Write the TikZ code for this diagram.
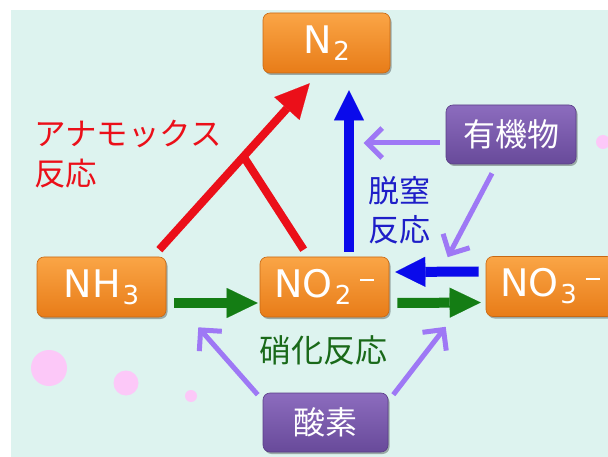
\documentclass[tikz,border=0pt]{standalone}
\usepackage{fontspec}
\setmainfont{Noto Sans CJK JP}
\newfontfamily\latinf{DejaVu Sans}
\usetikzlibrary{arrows.meta,shadows,calc}
\definecolor{bgc}{RGB}{221,243,239}
\definecolor{otop}{RGB}{250,165,70}
\definecolor{obot}{RGB}{232,124,24}
\definecolor{obord}{RGB}{200,105,20}
\definecolor{ptop}{RGB}{140,108,190}
\definecolor{pbot}{RGB}{104,74,154}
\definecolor{pbord}{RGB}{90,62,135}
\definecolor{redc}{RGB}{235,15,25}
\definecolor{bluec}{RGB}{10,10,235}
\definecolor{greenc}{RGB}{20,125,20}
\definecolor{glabel}{RGB}{25,105,25}
\definecolor{blabel}{RGB}{30,30,200}
\definecolor{purc}{RGB}{158,120,245}
\definecolor{pinkc}{RGB}{252,200,248}
\newcommand\chsub[1]{\hspace{2pt}\raisebox{-7pt}{\fontsize{26pt}{26pt}\selectfont #1}}
\newcommand\chsup{\hspace{9pt}\rule[17pt]{14pt}{1.6pt}}
\begin{document}
\begin{tikzpicture}[x=1pt,y=-1pt,
  basebox/.style={rounded corners=7pt, line width=0.6pt, inner sep=0pt,
    minimum height=60pt, text=white,
    drop shadow={shadow xshift=1.5pt,shadow yshift=-2pt,opacity=0.3,fill=black}},
  obox/.style={basebox, draw=obord, top color=otop, bottom color=obot,
    minimum width=129pt, font=\latinf\fontsize{38pt}{38pt}\selectfont},
  pbox/.style={basebox, draw=pbord, top color=ptop, bottom color=pbot,
    minimum height=59pt, font=\fontsize{32pt}{32pt}\selectfont},
  redarrow/.style={draw=redc, line width=8pt, -{Triangle[length=34pt,width=34pt,line width=0.1pt]}},
  redline/.style={draw=redc, line width=8pt},
  bluearrow/.style={draw=bluec, line width=10pt, -{Triangle[length=30pt,width=30pt,line width=0.1pt]}},
  greenarrow/.style={draw=greenc, line width=10pt, -{Triangle[length=31pt,width=30pt,line width=0.1pt]}},
  purarrow/.style={draw=purc, line width=5pt, -{Straight Barb[length=15pt,width=30pt]}},
  lbl/.style={inner sep=0pt, align=left}
]
\useasboundingbox (0,0) rectangle (608,457);
\clip (0,0) rectangle (608,457);
\fill[bgc] (11,10) rectangle (608,457);
% pink dots
\fill[pinkc] (49,368) circle[radius=18];
\fill[pinkc] (126,383) circle[radius=12.5];
\fill[pinkc] (191,396) circle[radius=6];
\fill[pinkc] (603,142) circle[radius=7];
% boxes
\node[obox, minimum width=127pt] (n2) at (326.5,43) {N\chsub{2}};
\node[obox] (nh3) at (101.5,287) {NH\chsub{3}};
\node[obox] (no2) at (324.5,287) {NO\chsub{2}\chsup};
\node[obox, minimum width=128pt] (no3) at (550,286.5) {NO\chsub{3}\chsup};
\node[pbox, minimum width=130pt] (org) at (511,134.5) {有機物};
\node[pbox, minimum width=125pt] (o2) at (325.5,422.5) {酸素};
% red anammox
\draw[redarrow] ($(nh3.north east)+(-7,-7)$) -- coordinate[pos=0.56] (j) ($(n2.south west)+(47,10)$);
\draw[redline] ($(no2.north west)+(44,-7)$) -- (j);
% blue denitrification
\draw[bluearrow] ($(no2.north)+(24.5,-5)$) -- ($(n2.south)+(22.5,17)$);
\draw[bluearrow] ($(no3.west)+(-7,-15)$) -- ($(no2.east)+(6,-15)$);
% green nitrification
\draw[greenarrow] ($(nh3.east)+(8,16)$) -- ($(no2.west)+(-2,16)$);
\draw[greenarrow] ($(no2.east)+(8,16)$) -- ($(no3.west)+(-5,16)$);
% purple
\draw[purarrow] ($(org.west)+(-6,8.5)$) -- ($(org.west)+(-82,8.5)$);
\draw[purarrow] ($(org.south)+(-19,9)$) -- ($(no3.north west)+(-38,1)$);
\draw[purarrow] ($(o2.north west)+(-5,2)$) -- ($(nh3.south east)+(32,10)$);
\draw[purarrow] ($(o2.north east)+(5,2)$) -- ($(no3.south west)+(-40,10)$);
% labels
\node[lbl, anchor=north west, text=redc, font=\fontsize{31.5pt}{40pt}\selectfont] (lred) at (34,120) {アナモックス\\反応};
\node[lbl, text=blabel, font=\fontsize{31pt}{39pt}\selectfont] (lblue) at (399,210) {脱窒\\反応};
\node[lbl, text=glabel, font=\fontsize{32pt}{32pt}\selectfont] (lgreen) at (323,350) {硝化反応};
\end{tikzpicture}
\end{document}
